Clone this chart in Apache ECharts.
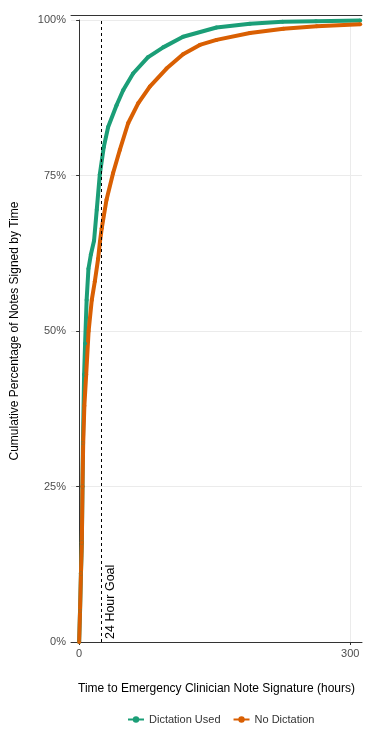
<!DOCTYPE html>
<html>
<head>
<meta charset="utf-8">
<script src="https://cdn.jsdelivr.net/npm/echarts@6/dist/echarts.min.js"></script>
<style>
  html, body { margin: 0; padding: 0; background: #fff; }
  #main { width: 378px; height: 729px; }
</style>
</head>
<body>
<div id="main"></div>
<script>
// hours since visit vs cumulative % signed
var dictationUsed = [
  [0, 0], [1, 5], [2, 11], [3, 16], [3.7, 25], [4.2, 32], [5.5, 43], [6.6, 48],
  [8.3, 55], [10.3, 60], [13, 62.3], [16.5, 64.5], [19.5, 69.5], [22.9, 75.2],
  [27.3, 79.6], [32.1, 82.8], [41.4, 86.3], [48.7, 88.7], [59.7, 91.4], [76, 94],
  [93, 95.6], [115, 97.3], [152, 98.8], [189, 99.4], [225, 99.7], [262, 99.8], [311, 99.9]
];
var noDictation = [
  [0, 0], [1, 5], [2, 11], [3, 16], [3.7, 25], [4.5, 32], [5.8, 38], [7.8, 43],
  [10.5, 50], [14, 55], [17.4, 58], [21, 61.6], [23, 64.3], [25, 66.5], [30.3, 71.1],
  [37.6, 75.4], [45, 79.1], [54.2, 83.4], [65.3, 86.6], [78.2, 89.3], [96.7, 92.2],
  [115, 94.5], [133.5, 96], [152, 96.8], [189, 97.9], [226, 98.6], [263, 99], [311, 99.3]
];
var seriesNames = ['Dictation Used', 'No Dictation'];
var xTicks = [0, 300];
var yTicks = [0, 25, 50, 75, 100];
var goalHours = 24;

var chart = echarts.init(document.getElementById('main'));

var lineSeries = function (name, data, color) {
    return {
        name: name,
        type: 'line',
        data: data,
        color: color,
        smooth: false,
        clip: false,
        symbol: 'circle',
        symbolSize: 4,
        showSymbol: true,
        lineStyle: { width: 4, color: color, join: 'round' },
        itemStyle: { color: color },
        emphasis: { disabled: true },
        animation: false
    };
};

var goal = lineSeries(seriesNames[0], dictationUsed, '#1b9e77');
goal.markLine = {
    silent: true,
    symbol: ['none', 'none'],
    animation: false,
    lineStyle: { color: '#000', type: [3, 3], width: 1 },
    label: {
        show: true,
        formatter: '24 Hour Goal',
        position: 'insideStartBottom',
        distance: 3,
        color: '#000',
        fontSize: 12.5,
        fontFamily: 'Liberation Sans'
    },
    data: [{ xAxis: goalHours }]
};

chart.setOption({
    textStyle: { fontFamily: 'Liberation Sans' },
    grid: { left: 71, right: 16, top: 20, bottom: 87 },
    legend: {
        left: 122,
        top: 709,
        itemWidth: 16,
        itemHeight: 8,
        itemGap: 12,
        data: seriesNames,
        textStyle: { color: '#333', fontSize: 11 }
    },
    xAxis: [{
        type: 'value',
        min: -9,
        max: 313,
        name: 'Time to Emergency Clinician Note Signature (hours)',
        nameLocation: 'middle',
        nameGap: 41,
        nameTextStyle: { color: '#000', fontSize: 12 },
        axisLine: { show: true, onZero: false, lineStyle: { color: '#333' } },
        axisTick: { show: true, length: 3, customValues: xTicks, lineStyle: { color: '#333' } },
        axisLabel: { customValues: xTicks, color: '#4d4d4d', fontSize: 11, margin: 6 },
        splitLine: { show: true, lineStyle: { color: '#ebebeb', width: 1 } }
    }, {
        type: 'value',
        position: 'top',
        offset: 5,
        min: -9,
        max: 313,
        axisLine: { show: true, onZero: false, lineStyle: { color: '#333' } },
        axisTick: { show: false },
        axisLabel: { show: false },
        splitLine: { show: false }
    }],
    yAxis: {
        type: 'value',
        min: 0,
        max: 100,
        interval: 25,
        name: 'Cumulative Percentage of Notes Signed by Time',
        nameLocation: 'middle',
        nameGap: 50,
        nameTextStyle: { color: '#000', fontSize: 12 },
        axisLine: { show: true, lineStyle: { color: '#333' } },
        axisTick: { show: true, length: 3, lineStyle: { color: '#333' } },
        axisLabel: {
            color: '#4d4d4d',
            fontSize: 11,
            margin: 5,
            formatter: function (v) { return yTicks.indexOf(v) >= 0 ? v + '%' : ''; }
        },
        splitLine: { show: true, lineStyle: { color: '#ebebeb', width: 1 } }
    },
    series: [
        goal,
        lineSeries(seriesNames[1], noDictation, '#d95f02')
    ]
});
</script>
</body>
</html>
